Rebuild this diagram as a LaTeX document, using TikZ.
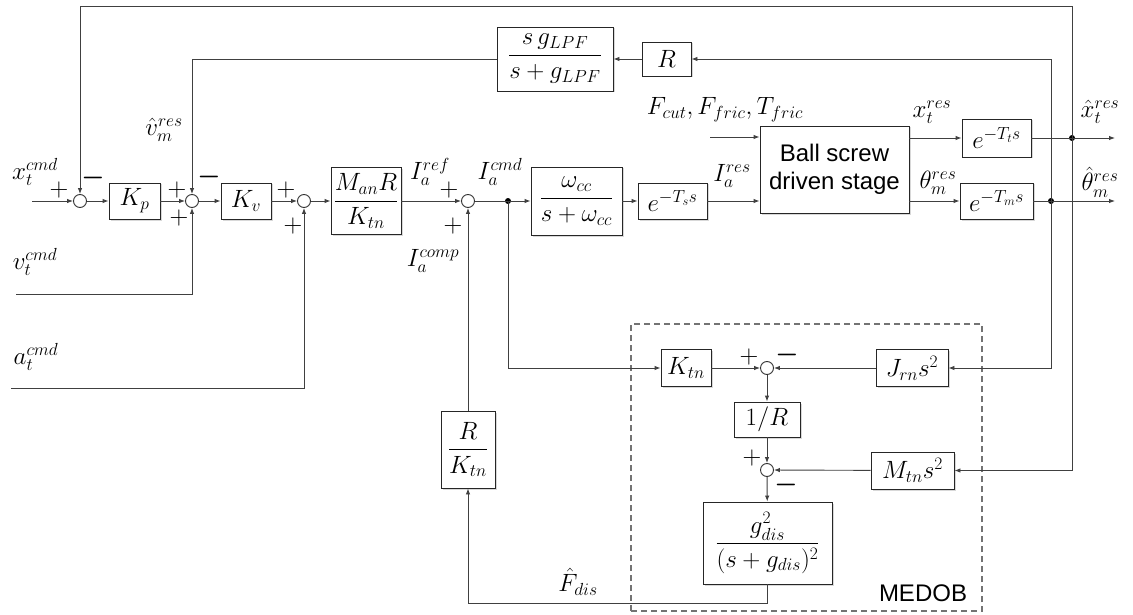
\RequirePackage{fix-cm}
\documentclass[tikz,border=0pt]{standalone}
\usepackage{amsmath,bm}
\usepackage[no-math]{fontspec}
\newfontfamily\arial{Liberation Sans}
\usetikzlibrary{arrows.meta,shadows,calc}
\begin{document}
\begin{tikzpicture}[x=1pt,y=-1pt,
  font=\fontsize{25}{29}\selectfont,
  ln/.style={draw=black!75, line width=0.9pt},
  arr/.style={ln,-{Latex[length=6pt,width=4.5pt]}},
  blk/.style={draw=black!85, line width=0.9pt, fill=white, inner sep=1pt,
    drop shadow={shadow xshift=1.5pt,shadow yshift=-1.5pt,opacity=0.3}},
  sumc/.style={circle, draw=black!80, line width=0.9pt, fill=white, minimum size=13pt, inner sep=0pt},
  dotc/.style={circle, fill=black, minimum size=6pt, inner sep=0pt},
  lbl/.style={inner sep=0pt},
  sgn/.style={inner sep=0pt, font=\fontsize{26}{26}\selectfont},
]
\fill[white] (0,0) rectangle (1133,615);
\useasboundingbox (0,0) rectangle (1133,615);

% MEDOB frame
\node[draw=black!55, line width=1.1pt, dash pattern=on 6pt off 4pt, minimum width=351pt, minimum height=287pt, inner sep=0pt] (medob) at (806.5,467.5) {};
\node[lbl, font=\arial\fontsize{24}{24}\selectfont] (medobl) at (923,593) {MEDOB};

% sums
\node[sumc] (s1) at (80,201) {};
\node[sumc] (s2) at (192,201) {};
\node[sumc] (s3) at (304,201) {};
\node[sumc] (s4) at (468,201) {};
\node[sumc] (s5) at (767,368) {};
\node[sumc] (s6) at (767,470) {};

% blocks
\node[blk, minimum width=51pt, minimum height=36pt] (kp) at (134.5,201) {$K_p$};
\node[blk, minimum width=50pt, minimum height=36pt] (kv) at (246,201) {$K_v$};
\node[blk, minimum width=70pt, minimum height=67pt] (mb) at (366,201) {$\dfrac{M_{an}R}{K_{tn}}$};
\node[blk, minimum width=91pt, minimum height=68pt] (wcc) at (576.5,201) {$\dfrac{\omega_{cc}}{s+\omega_{cc}}$};
\node[blk, minimum width=69pt, minimum height=36pt] (ets) at (672.5,201) {$e^{-T_s s}$};
\node[blk, minimum width=149pt, minimum height=87pt, align=center, font=\arial\fontsize{24}{28}\selectfont] (ball) at (834.5,169.5) {Ball screw\\driven stage};
\node[blk, minimum width=69pt, minimum height=38pt] (ett) at (996.5,138) {$e^{-T_t s}$};
\node[blk, minimum width=73pt, minimum height=36pt] (etm) at (996.5,201) {$e^{-T_m s}$};
\node[blk, minimum width=116pt, minimum height=64pt] (sgb) at (555,59) {$\dfrac{s\,g_{LPF}}{s+g_{LPF}}$};
\node[blk, minimum width=49pt, minimum height=34pt] (rb) at (666.5,59) {$R$};
\node[blk, minimum width=54pt, minimum height=77pt] (rk) at (468,449.5) {$\dfrac{R}{K_{tn}}$};
\node[blk, minimum width=50pt, minimum height=37pt] (ktn) at (686,368) {$K_{tn}$};
\node[blk, minimum width=72pt, minimum height=37pt] (jrn) at (912,368) {$J_{rn}s^2$};
\node[blk, minimum width=66pt, minimum height=35pt] (invr) at (767,419.5) {$1/R$};
\node[blk, minimum width=83pt, minimum height=37pt] (mtn) at (912.5,470.5) {$M_{tn}s^2$};
\node[blk, minimum width=129pt, minimum height=82pt] (gdis) at (767.5,543) {$\dfrac{g_{dis}^2}{(s+g_{dis})^2}$};

% coordinates
\coordinate (xin) at (32,201);
\coordinate (vin) at (16,294);
\coordinate (ain) at (11,388);
\coordinate (fin) at (710,137);
\coordinate (xout) at (1115,138);
\coordinate (tout) at (1115,201);
\coordinate (tp) at (80,6);
\node[dotc] (d1) at (508,201) {};
\node[dotc] (d2) at (1051,201) {};
\node[dotc] (d3) at (1072,138) {};

% main path
\draw[arr] (xin) -- (s1);
\draw[arr] (s1) -- (kp);
\draw[arr] (kp) -- (s2);
\draw[arr] (s2) -- (kv);
\draw[arr] (kv) -- (s3);
\draw[arr] (s3) -- (mb);
\draw[arr] (mb) -- (s4);
\draw[ln] (s4) -- (d1.center);
\draw[arr] (d1.center) -- (wcc);
\draw[arr] (wcc) -- (ets);
\draw[arr] (ets) -- (ets -| ball.west);
\draw[arr] (fin) -- (fin -| ball.west);
\draw[arr] (ball.east |- ett) -- (ett);
\draw[arr] (ball.east |- etm) -- (etm);
\draw[ln] (ett) -- (d3.center);
\draw[arr] (d3.center) -- (xout);
\draw[ln] (etm) -- (d2.center);
\draw[arr] (d2.center) -- (tout);

% feedbacks
\draw[arr] (d3.center) |- (tp) -- (s1);
\draw[arr] (d2.center) |- (rb);
\draw[arr] (rb) -- (sgb);
\draw[arr] (sgb.west) -| (s2);
\draw[arr] (vin) -| (s2);
\draw[arr] (ain) -| (s3);

% MEDOB
\draw[arr] (d1.center) |- (ktn);
\draw[arr] (ktn) -- (s5);
\draw[arr] (d2.center) |- (jrn);
\draw[arr] (jrn) -- (s5);
\draw[arr] (s5) -- (invr);
\draw[arr] (invr) -- (s6);
\draw[arr] (d3.center) |- (mtn);
\draw[arr] (mtn) -- (s6);
\draw[arr] (s6) -- (gdis);
\draw[arr] (gdis.south) -- ++(0,19) -| (rk.south);
\draw[arr] (rk.north) -- (s4);

% labels
\node[lbl] (lxc) at (35,172) {$x_t^{cmd}$};
\node[lbl] (lvc) at (35,262) {$v_t^{cmd}$};
\node[lbl] (lac) at (36,357) {$a_t^{cmd}$};
\node[lbl] (lvm) at (164,130) {$\hat{v}_m^{res}$};
\node[lbl] (lir) at (430,172) {$I_a^{ref}$};
\node[lbl] (lic) at (433,261) {$I_a^{comp}$};
\node[lbl] (licm) at (500,172) {$I_a^{cmd}$};
\node[lbl] (lires) at (732,176) {$I_a^{res}$};
\node[lbl] (lf) at (725,110) {$F_{cut},F_{fric},T_{fric}$};
\node[lbl] (lxr) at (932,112) {$x_t^{res}$};
\node[lbl] (ltr) at (938,183) {$\theta_m^{res}$};
\node[lbl] (lxh) at (1100,112) {$\hat{x}_t^{res}$};
\node[lbl] (lth) at (1100,182) {$\hat{\theta}_m^{res}$};
\node[lbl] (lfd) at (578,582) {$\hat{F}_{dis}$};

% signs
\node[sgn] (p1) at (59,190) {$+$};
\node[sgn] (m1) at (93,178) {$\bm{-}$};
\node[sgn] (p2) at (177,190) {$+$};
\node[sgn] (m2) at (209,177) {$\bm{-}$};
\node[sgn] (p3) at (179,218) {$+$};
\node[sgn] (p4) at (286,190) {$+$};
\node[sgn] (p5) at (293,226) {$+$};
\node[sgn] (p6) at (449,190) {$+$};
\node[sgn] (p7) at (453,226) {$+$};
\node[sgn] (p8) at (749,357) {$+$};
\node[sgn] (m3) at (787,355) {$\bm{-}$};
\node[sgn] (p9) at (752,458) {$+$};
\node[sgn] (m4) at (786,485) {$\bm{-}$};
\end{tikzpicture}
\end{document}
